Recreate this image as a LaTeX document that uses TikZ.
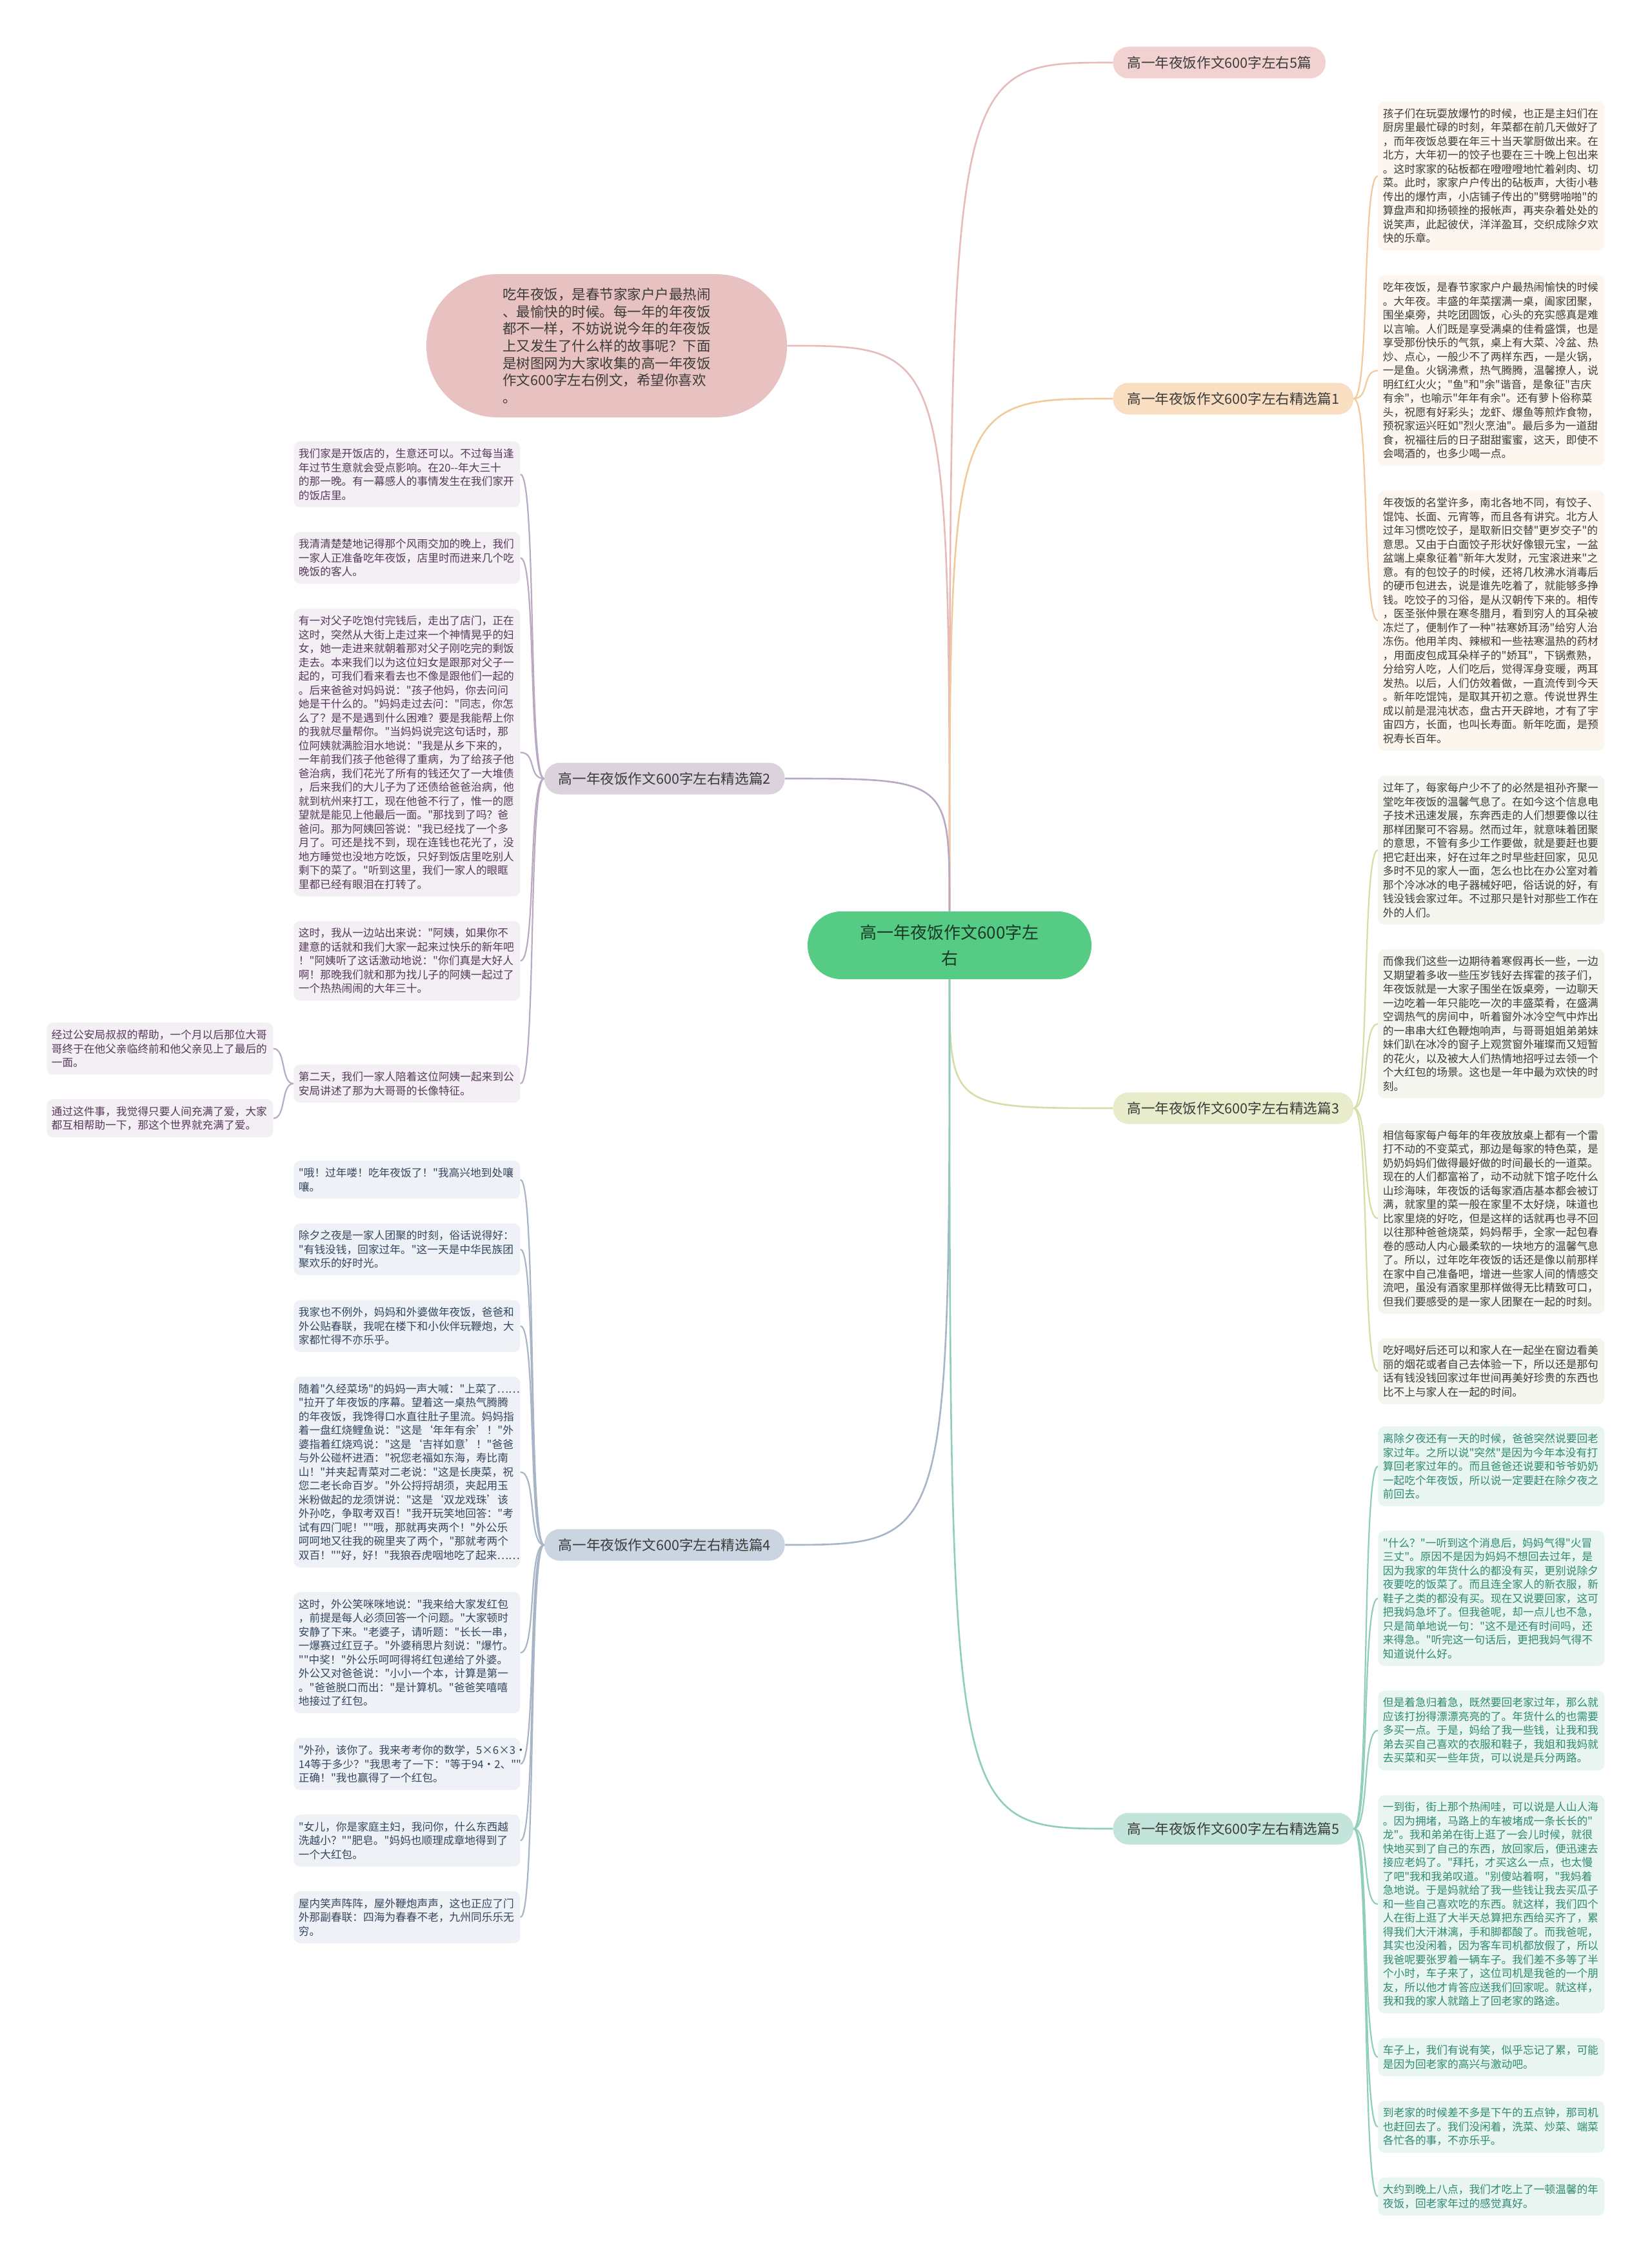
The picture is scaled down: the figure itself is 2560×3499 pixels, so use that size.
\documentclass[tikz,border=0pt]{standalone}
\usepackage{fontspec}
\newfontfamily\cjkfont{Noto Sans CJK SC}
\usepackage{xcolor}
\usetikzlibrary{positioning}

\definecolor{inktext}{HTML}{3B3B3B}
\definecolor{topicfill}{HTML}{55CB84}
\definecolor{topictext}{HTML}{1C3826}
\definecolor{introfill}{HTML}{E8C1C1}
\definecolor{pinkline}{HTML}{E7BBBB}
\definecolor{b0fill}{HTML}{F2D1D1}
\definecolor{b1fill}{HTML}{F9DEC2}
\definecolor{b2fill}{HTML}{DCD2DE}
\definecolor{b3fill}{HTML}{E8ECCA}
\definecolor{b4fill}{HTML}{CBD5E1}
\definecolor{b5fill}{HTML}{C3E4DB}
\definecolor{lineA}{HTML}{F1C99A}
\definecolor{lineB}{HTML}{B9A9C3}
\definecolor{lineC}{HTML}{D6DDA6}
\definecolor{lineD}{HTML}{A7B5C7}
\definecolor{lineE}{HTML}{8FCDBD}
\definecolor{leafAfill}{HTML}{FCF6EF}
\definecolor{leafBfill}{HTML}{F3EFF4}
\definecolor{leafCfill}{HTML}{F4F5EF}
\definecolor{leafDfill}{HTML}{EEF2F7}
\definecolor{leafEfill}{HTML}{E9F5F1}
\definecolor{textB}{HTML}{56395A}
\definecolor{textD}{HTML}{34465E}
\definecolor{textE}{HTML}{2E8A72}

\newcommand\leaffont{\cjkfont\fontsize{8.35pt}{10.75pt}\selectfont}
\newcommand\branchfont{\cjkfont\fontsize{10.8pt}{13pt}\selectfont}
\newcommand\introfont{\cjkfont\fontsize{10.75pt}{13.35pt}\selectfont}
\newcommand\topicfont{\cjkfont\fontsize{13pt}{20pt}\selectfont}

\begin{document}
\begin{tikzpicture}[x=0.5pt, y=-0.5pt,
        topic/.style={rectangle, fill=topicfill, text=topictext, rounded corners=26pt, align=center, minimum width=220pt, minimum height=52.5pt, inner sep=0pt, font=\topicfont},
        intro/.style={rectangle, fill=introfill, text=inktext, rounded corners=55pt, align=left, minimum width=279.5pt, minimum height=111pt, inner sep=0pt, font=\introfont},
        branch/.style={rectangle, text=inktext, rounded corners=12pt, minimum height=24.5pt, inner xsep=11pt, inner ysep=0pt, font=\branchfont},
        leaf/.style={rectangle, rounded corners=5pt, align=left, text width=168pt, inner xsep=3.75pt, inner ysep=0pt, font=\leaffont},
        leafA/.style={leaf, fill=leafAfill, text=inktext},
        leafB/.style={leaf, fill=leafBfill, text=textB},
        leafC/.style={leaf, fill=leafCfill, text=inktext},
        leafD/.style={leaf, fill=leafDfill, text=textD},
        leafE/.style={leaf, fill=leafEfill, text=textE},
        link/.style={line width=1.3pt},
        twig/.style={line width=1.1pt}]

    \fill[white] (0,0) rectangle (2560,3499);
    \useasboundingbox (0,0) rectangle (2560,3499);

    % centre and intro
    \node (topic) [topic] at (1472,1465.5) {高一年夜饭作文600字左\\右};
    \node (intro) [intro] at (940.5,536) {吃年夜饭，是春节家家户户最热闹\\
        、最愉快的时候。每一年的年夜饭\\
        都不一样，不妨说说今年的年夜饭\\
        上又发生了什么样的故事呢？下面\\
        是树图网为大家收集的高一年夜饭\\
        作文600字左右例文，希望你喜欢\\
        。};

    % branches
    \node (b0) [branch, fill=b0fill, anchor=west] at (1725,97) {高一年夜饭作文600字左右5篇};
    \node (b1) [branch, fill=b1fill, anchor=west] at (1725,618) {高一年夜饭作文600字左右精选篇1};
    \node (b2) [branch, fill=b2fill, anchor=east] at (1217,1207) {高一年夜饭作文600字左右精选篇2};
    \node (b3) [branch, fill=b3fill, anchor=west] at (1725,1718) {高一年夜饭作文600字左右精选篇3};
    \node (b4) [branch, fill=b4fill, anchor=east] at (1217,2395) {高一年夜饭作文600字左右精选篇4};
    \node (b5) [branch, fill=b5fill, anchor=west] at (1725,2835) {高一年夜饭作文600字左右精选篇5};

    % section 1
    \node (l1a) [leafA, minimum height=115.5pt, anchor=north west] at (2136,157) {孩子们在玩耍放爆竹的时候，也正是主妇们在\\
        厨房里最忙碌的时刻，年菜都在前几天做好了\\
        ，而年夜饭总要在年三十当天掌厨做出来。在\\
        北方，大年初一的饺子也要在三十晚上包出来\\
        。这时家家的砧板都在噔噔噔地忙着剁肉、切\\
        菜。此时，家家户户传出的砧板声，大街小巷\\
        传出的爆竹声，小店铺子传出的"劈劈啪啪"的\\
        算盘声和抑扬顿挫的报帐声，再夹杂着处处的\\
        说笑声，此起彼伏，洋洋盈耳，交织成除夕欢\\
        快的乐章。};
    \node (l1b) [leafA, minimum height=147.75pt, below=18.75pt of l1a] {吃年夜饭，是春节家家户户最热闹愉快的时候\\
        。大年夜。丰盛的年菜摆满一桌，阖家团聚，\\
        围坐桌旁，共吃团圆饭，心头的充实感真是难\\
        以言喻。人们既是享受满桌的佳肴盛馔，也是\\
        享受那份快乐的气氛，桌上有大菜、冷盆、热\\
        炒、点心，一般少不了两样东西，一是火锅，\\
        一是鱼。火锅沸煮，热气腾腾，温馨撩人，说\\
        明红红火火；"鱼"和"余"谐音，是象征"吉庆\\
        有余"，也喻示"年年有余"。还有萝卜俗称菜\\
        头，祝愿有好彩头；龙虾、爆鱼等煎炸食物，\\
        预祝家运兴旺如"烈火烹油"。最后多为一道甜\\
        食，祝福往后的日子甜甜蜜蜜，这天，即使不\\
        会喝酒的，也多少喝一点。};
    \node (l1c) [leafA, minimum height=201.5pt, below=18.75pt of l1b] {年夜饭的名堂许多，南北各地不同，有饺子、\\
        馄饨、长面、元宵等，而且各有讲究。北方人\\
        过年习惯吃饺子，是取新旧交替"更岁交子"的\\
        意思。又由于白面饺子形状好像银元宝，一盆\\
        盆端上桌象征着"新年大发财，元宝滚进来"之\\
        意。有的包饺子的时候，还将几枚沸水消毒后\\
        的硬币包进去，说是谁先吃着了，就能够多挣\\
        钱。吃饺子的习俗，是从汉朝传下来的。相传\\
        ，医圣张仲景在寒冬腊月，看到穷人的耳朵被\\
        冻烂了，便制作了一种"祛寒娇耳汤"给穷人治\\
        冻伤。他用羊肉、辣椒和一些祛寒温热的药材\\
        ，用面皮包成耳朵样子的"娇耳"，下锅煮熟，\\
        分给穷人吃，人们吃后，觉得浑身变暖，两耳\\
        发热。以后，人们仿效着做，一直流传到今天\\
        。新年吃馄饨，是取其开初之意。传说世界生\\
        成以前是混沌状态，盘古开天辟地，才有了宇\\
        宙四方，长面，也叫长寿面。新年吃面，是预\\
        祝寿长百年。};

    % section 3
    \node (l3a) [leafC, minimum height=115.5pt, anchor=north west] at (2136,1202) {过年了，每家每户少不了的必然是祖孙齐聚一\\
        堂吃年夜饭的温馨气息了。在如今这个信息电\\
        子技术迅速发展，东奔西走的人们想要像以往\\
        那样团聚可不容易。然而过年，就意味着团聚\\
        的意思，不管有多少工作要做，就是要赶也要\\
        把它赶出来，好在过年之时早些赶回家，见见\\
        多时不见的家人一面，怎么也比在办公室对着\\
        那个冷冰冰的电子器械好吧，俗话说的好，有\\
        钱没钱会家过年。不过那只是针对那些工作在\\
        外的人们。};
    \node (l3b) [leafC, minimum height=115.5pt, below=18.75pt of l3a] {而像我们这些一边期待着寒假再长一些，一边\\
        又期望着多收一些压岁钱好去挥霍的孩子们，\\
        年夜饭就是一大家子围坐在饭桌旁，一边聊天\\
        一边吃着一年只能吃一次的丰盛菜肴，在盛满\\
        空调热气的房间中，听着窗外冰冷空气中炸出\\
        的一串串大红色鞭炮响声，与哥哥姐姐弟弟妹\\
        妹们趴在冰冷的窗子上观赏窗外璀璨而又短暂\\
        的花火，以及被大人们热情地招呼过去领一个\\
        个大红包的场景。这也是一年中最为欢快的时\\
        刻。};
    \node (l3c) [leafC, minimum height=147.75pt, below=18.75pt of l3b] {相信每家每户每年的年夜放放桌上都有一个雷\\
        打不动的不变菜式，那边是每家的特色菜，是\\
        奶奶妈妈们做得最好做的时间最长的一道菜。\\
        现在的人们都富裕了，动不动就下馆子吃什么\\
        山珍海味，年夜饭的话每家酒店基本都会被订\\
        满，就家里的菜一般在家里不太好烧，味道也\\
        比家里烧的好吃，但是这样的话就再也寻不回\\
        以往那种爸爸烧菜，妈妈帮手，全家一起包春\\
        卷的感动人内心最柔软的一块地方的温馨气息\\
        了。所以，过年吃年夜饭的话还是像以前那样\\
        在家中自己准备吧，增进一些家人间的情感交\\
        流吧，虽没有酒家里那样做得无比精致可口，\\
        但我们要感受的是一家人团聚在一起的时刻。};
    \node (l3d) [leafC, minimum height=51pt, below=18.75pt of l3c] {吃好喝好后还可以和家人在一起坐在窗边看美\\
        丽的烟花或者自己去体验一下，所以还是那句\\
        话有钱没钱回家过年世间再美好珍贵的东西也\\
        比不上与家人在一起的时间。};

    % section 5
    \node (l5a) [leafE, minimum height=61.75pt, anchor=north west] at (2136,2211) {离除夕夜还有一天的时候，爸爸突然说要回老\\
        家过年。之所以说"突然"是因为今年本没有打\\
        算回老家过年的。而且爸爸还说要和爷爷奶奶\\
        一起吃个年夜饭，所以说一定要赶在除夕夜之\\
        前回去。};
    \node (l5b) [leafE, minimum height=104.75pt, below=18.75pt of l5a] {"什么？"一听到这个消息后，妈妈气得"火冒\\
        三丈"。原因不是因为妈妈不想回去过年，是\\
        因为我家的年货什么的都没有买，更别说除夕\\
        夜要吃的饭菜了。而且连全家人的新衣服，新\\
        鞋子之类的都没有买。现在又说要回家，这可\\
        把我妈急坏了。但我爸呢，却一点儿也不急，\\
        只是简单地说一句："这不是还有时间吗，还\\
        来得急。"听完这一句话后，更把我妈气得不\\
        知道说什么好。};
    \node (l5c) [leafE, minimum height=61.75pt, below=18.75pt of l5b] {但是着急归着急，既然要回老家过年，那么就\\
        应该打扮得漂漂亮亮的了。年货什么的也需要\\
        多买一点。于是，妈给了我一些钱，让我和我\\
        弟去买自己喜欢的衣服和鞋子，我姐和我妈就\\
        去买菜和买一些年货，可以说是兵分两路。};
    \node (l5d) [leafE, minimum height=169.25pt, below=18.75pt of l5c] {一到街，街上那个热闹哇，可以说是人山人海\\
        。因为拥堵，马路上的车被堵成一条长长的"\\
        龙"。我和弟弟在街上逛了一会儿时候，就很\\
        快地买到了自己的东西，放回家后，便迅速去\\
        接应老妈了。"拜托，才买这么一点，也太慢\\
        了吧"我和我弟叹道。"别傻站着啊，"我妈着\\
        急地说。于是妈就给了我一些钱让我去买瓜子\\
        和一些自己喜欢吃的东西。就这样，我们四个\\
        人在街上逛了大半天总算把东西给买齐了，累\\
        得我们大汗淋漓，手和脚都酸了。而我爸呢，\\
        其实也没闲着，因为客车司机都放假了，所以\\
        我爸呢要张罗着一辆车子。我们差不多等了半\\
        个小时，车子来了，这位司机是我爸的一个朋\\
        友，所以他才肯答应送我们回家呢。就这样，\\
        我和我的家人就踏上了回老家的路途。};
    \node (l5e) [leafE, minimum height=29.5pt, below=18.75pt of l5d] {车子上，我们有说有笑，似乎忘记了累，可能\\
        是因为回老家的高兴与激动吧。};
    \node (l5f) [leafE, minimum height=40.25pt, below=18.75pt of l5e] {到老家的时候差不多是下午的五点钟，那司机\\
        也赶回去了。我们没闲着，洗菜、炒菜、端菜\\
        各忙各的事，不亦乐乎。};
    \node (l5g) [leafE, minimum height=29.5pt, below=18.75pt of l5f] {大约到晚上八点，我们才吃上了一顿温馨的年\\
        夜饭，回老家年过的感觉真好。};

    % section 2
    \node (l2a) [leafB, minimum height=51pt, anchor=north west] at (455,684) {我们家是开饭店的，生意还可以。不过每当逢\\
        年过节生意就会受点影响。在20-{}-年大三十\\
        的那一晚。有一幕感人的事情发生在我们家开\\
        的饭店里。};
    \node (l2b) [leafB, minimum height=40.25pt, below=18.75pt of l2a] {我清清楚楚地记得那个风雨交加的晚上，我们\\
        一家人正准备吃年夜饭，店里时而进来几个吃\\
        晚饭的客人。};
    \node (l2c) [leafB, minimum height=223pt, below=18.75pt of l2b] {有一对父子吃饱付完钱后，走出了店门，正在\\
        这时，突然从大街上走过来一个神情晃乎的妇\\
        女，她一走进来就朝着那对父子刚吃完的剩饭\\
        走去。本来我们以为这位妇女是跟那对父子一\\
        起的，可我们看来看去也不像是跟他们一起的\\
        。后来爸爸对妈妈说："孩子他妈，你去问问\\
        她是干什么的。"妈妈走过去问："同志，你怎\\
        么了？是不是遇到什么困难？要是我能帮上你\\
        的我就尽量帮你。"当妈妈说完这句话时，那\\
        位阿姨就满脸泪水地说："我是从乡下来的，\\
        一年前我们孩子他爸得了重病，为了给孩子他\\
        爸治病，我们花光了所有的钱还欠了一大堆债\\
        ，后来我们的大儿子为了还债给爸爸治病，他\\
        就到杭州来打工，现在他爸不行了，惟一的愿\\
        望就是能见上他最后一面。"那找到了吗？爸\\
        爸问。那为阿姨回答说："我已经找了一个多\\
        月了。可还是找不到，现在连钱也花光了，没\\
        地方睡觉也没地方吃饭，只好到饭店里吃别人\\
        剩下的菜了。"听到这里，我们一家人的眼眶\\
        里都已经有眼泪在打转了。};
    \node (l2d) [leafB, minimum height=61.75pt, below=18.75pt of l2c] {这时，我从一边站出来说："阿姨，如果你不\\
        建意的话就和我们大家一起来过快乐的新年吧\\
        ！"阿姨听了这话激动地说："你们真是大好人\\
        啊！那晚我们就和那为找儿子的阿姨一起过了\\
        一个热热闹闹的大年三十。};
    \node (l2e) [leafB, minimum height=29.5pt, anchor=north west] at (455,1650) {第二天，我们一家人陪着这位阿姨一起来到公\\
        安局讲述了那为大哥哥的长像特征。};
    \node (l2f) [leafB, minimum height=40.25pt, anchor=north west] at (72,1585) {经过公安局叔叔的帮助，一个月以后那位大哥\\
        哥终于在他父亲临终前和他父亲见上了最后的\\
        一面。};
    \node (l2g) [leafB, minimum height=29.5pt, below=18.75pt of l2f] {通过这件事，我觉得只要人间充满了爱，大家\\
        都互相帮助一下，那这个世界就充满了爱。};

    % section 4
    \node (l4a) [leafD, minimum height=29.5pt, anchor=north west] at (455,1799) {"哦！过年喽！吃年夜饭了！"我高兴地到处嚷\\
        嚷。};
    \node (l4b) [leafD, minimum height=40.25pt, below=18.75pt of l4a] {除夕之夜是一家人团聚的时刻，俗话说得好：\\
        "有钱没钱，回家过年。"这一天是中华民族团\\
        聚欢乐的好时光。};
    \node (l4c) [leafD, minimum height=40.25pt, below=18.75pt of l4b] {我家也不例外，妈妈和外婆做年夜饭，爸爸和\\
        外公贴春联，我呢在楼下和小伙伴玩鞭炮，大\\
        家都忙得不亦乐乎。};
    \node (l4d) [leafD, minimum height=147.75pt, below=18.75pt of l4c] {随着"久经菜场"的妈妈一声大喊："上菜了……\\
        "拉开了年夜饭的序幕。望着这一桌热气腾腾\\
        的年夜饭，我馋得口水直往肚子里流。妈妈指\\
        着一盘红烧鲤鱼说："这是‘年年有余’！"外\\
        婆指着红烧鸡说："这是‘吉祥如意’！"爸爸\\
        与外公碰杯进酒："祝您老福如东海，寿比南\\
        山！"并夹起青菜对二老说："这是长庚菜，祝\\
        您二老长命百岁。"外公捋捋胡须，夹起用玉\\
        米粉做起的龙须饼说："这是‘双龙戏珠’该\\
        外孙吃，争取考双百！"我开玩笑地回答："考\\
        试有四门呢！""哦，那就再夹两个！"外公乐\\
        呵呵地又往我的碗里夹了两个，"那就考两个\\
        双百！""好，好！"我狼吞虎咽地吃了起来……};
    \node (l4e) [leafD, minimum height=94pt, below=18.75pt of l4d] {这时，外公笑咪咪地说："我来给大家发红包\\
        ，前提是每人必须回答一个问题。"大家顿时\\
        安静了下来。"老婆子，请听题："长长一串，\\
        一爆赛过红豆子。"外婆稍思片刻说："爆竹。\\
        ""中奖！"外公乐呵呵得将红包递给了外婆。\\
        外公又对爸爸说："小小一个本，计算是第一\\
        。"爸爸脱口而出："是计算机。"爸爸笑嘻嘻\\
        地接过了红包。};
    \node (l4f) [leafD, minimum height=40.25pt, below=18.75pt of l4e] {"外孙，该你了。我来考考你的数学，5×6×3·\\
        14等于多少？"我思考了一下："等于94·2、""\\
        正确！"我也赢得了一个红包。};
    \node (l4g) [leafD, minimum height=40.25pt, below=18.75pt of l4f] {"女儿，你是家庭主妇，我问你，什么东西越\\
        洗越小？""肥皂。"妈妈也顺理成章地得到了\\
        一个大红包。};
    \node (l4h) [leafD, minimum height=40.25pt, below=18.75pt of l4g] {屋内笑声阵阵，屋外鞭炮声声，这也正应了门\\
        外那副春联：四海为春春不老，九州同乐乐无\\
        穷。};

    % centre links
    \draw[link, pinkline] (topic.north) .. controls (topic.north |- intro.east) .. (intro.east);
    \draw[link, pinkline] (topic.north) .. controls (topic.north |- b0.west) .. (b0.west);
    \draw[link, lineA] (topic.north) .. controls (topic.north |- b1.west) .. (b1.west);
    \draw[link, lineB] (topic.north) .. controls (topic.north |- b2.east) .. (b2.east);
    \draw[link, lineC] (topic.south) .. controls (topic.south |- b3.west) .. (b3.west);
    \draw[link, lineD] (topic.south) .. controls (topic.south |- b4.east) .. (b4.east);
    \draw[link, lineE] (topic.south) .. controls (topic.south |- b5.west) .. (b5.west);

    % branch to leaves
    \foreach \n in {l1a,l1b,l1c}
        \draw[twig, lineA] (b1.east) .. controls +(25,0) and +(-25,0) .. (\n.west);
    \foreach \n in {l3a,l3b,l3c,l3d}
        \draw[twig, lineC] (b3.east) .. controls +(25,0) and +(-25,0) .. (\n.west);
    \foreach \n in {l5a,l5b,l5c,l5d,l5e,l5f,l5g}
        \draw[twig, lineE] (b5.east) .. controls +(25,0) and +(-25,0) .. (\n.west);
    \foreach \n in {l2a,l2b,l2c,l2d,l2e}
        \draw[twig, lineB] (b2.west) .. controls +(-25,0) and +(25,0) .. (\n.east);
    \foreach \n in {l2f,l2g}
        \draw[twig, lineB] (l2e.west) .. controls +(-20,0) and +(20,0) .. (\n.east);
    \foreach \n in {l4a,l4b,l4c,l4d,l4e,l4f,l4g,l4h}
        \draw[twig, lineD] (b4.west) .. controls +(-25,0) and +(25,0) .. (\n.east);
\end{tikzpicture}
\end{document}
